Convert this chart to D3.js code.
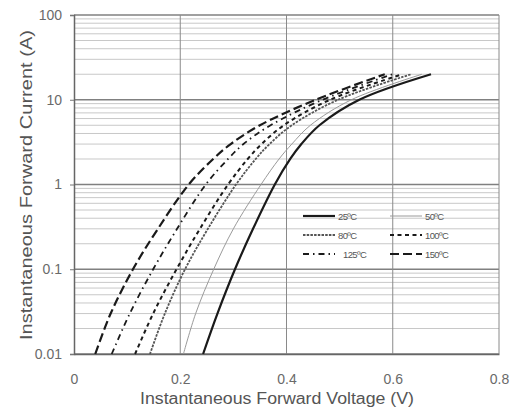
<!DOCTYPE html>
<html>
<head>
<meta charset="utf-8">
<script src="https://cdn.jsdelivr.net/npm/d3@7"></script>
<style>
  body { margin: 0; background: #fff; }
  svg { display: block; font-family: "Liberation Sans", Arial, sans-serif; }
</style>
</head>
<body>
<svg id="chart" width="513" height="412"></svg>
<script>
// forward current levels (A) where each curve was read
const currents = [0.01, 0.03, 0.1, 0.3, 1, 2, 3, 5, 10, 20];
// forward voltage (V) at those currents, one list per temperature
const v25  = [0.243, 0.270, 0.303, 0.337, 0.378, 0.407, 0.428, 0.462, 0.537, 0.672];
const v50  = [0.206, 0.229, 0.263, 0.300, 0.352, 0.386, 0.410, 0.445, 0.522, 0.655];
const v80  = [0.143, 0.171, 0.209, 0.252, 0.305, 0.342, 0.368, 0.41, 0.497, 0.635];
const v100 = [0.115, 0.149, 0.193, 0.237, 0.290, 0.327, 0.353, 0.395, 0.482, 0.618];
const v125 = [0.071, 0.105, 0.149, 0.194, 0.248, 0.290, 0.319, 0.37, 0.468, 0.60];
const v150 = [0.040, 0.069, 0.111, 0.158, 0.216, 0.262, 0.295, 0.35, 0.455, 0.585];

const tempLabels = ["25ºC", "50ºC", "80ºC", "100ºC", "125ºC", "150ºC"];
const xTicks = [0, 0.2, 0.4, 0.6, 0.8];
const yTicks = [0.01, 0.1, 1, 10, 100];

const svg = d3.select("#chart"),
  plotL = 74, plotR = 499, plotT = 15, plotB = 354;

const x = d3.scaleLinear().domain([0, 0.8]).range([plotL, plotR]);
const y = d3.scaleLog().domain([0.01, 100]).range([plotB, plotT]);

// minor horizontal grid (2..9 in each decade)
const minor = [];
[0.01, 0.1, 1, 10].forEach(d => { for (let k = 2; k <= 9; k++) minor.push(d * k); });
svg.append("g").selectAll("line").data(minor).join("line")
  .attr("x1", plotL).attr("x2", plotR)
  .attr("y1", d => y(d)).attr("y2", d => y(d))
  .attr("stroke", "#c8c8c8").attr("stroke-width", 1);

// major grid
svg.append("g").selectAll("line").data(yTicks).join("line")
  .attr("x1", plotL).attr("x2", plotR)
  .attr("y1", d => y(d)).attr("y2", d => y(d))
  .attr("stroke", "#808080").attr("stroke-width", 1.5);
svg.append("g").selectAll("line").data(xTicks.slice(1)).join("line")
  .attr("x1", d => x(d)).attr("x2", d => x(d))
  .attr("y1", plotT).attr("y2", plotB)
  .attr("stroke", "#8a8a8a").attr("stroke-width", 1);

// axes
const yAxis = svg.append("g").attr("transform", `translate(${plotL},0)`)
  .call(d3.axisLeft(y).tickValues(yTicks).tickSize(4).tickPadding(8)
    .tickFormat(d => String(d)));
const xAxis = svg.append("g").attr("transform", `translate(0,${plotB})`)
  .call(d3.axisBottom(x).tickValues(xTicks).tickSize(0).tickPadding(20)
    .tickFormat(d => d === 0 ? "0" : d3.format(".1f")(d)));
[yAxis, xAxis].forEach(a => {
  a.select(".domain").attr("stroke", "#666").attr("stroke-width", 1.5);
  a.selectAll(".tick line").attr("stroke", "#777");
  a.selectAll("text").attr("font-size", 14).attr("fill", "#6a6a6a")
    .attr("font-family", "Liberation Sans, Arial, sans-serif");
});

// curves
const styles = [
  {v: v25,  stroke: "#1a1a1a", width: 2.2, dash: null},
  {v: v50,  stroke: "#9a9a9a", width: 1,   dash: null},
  {v: v80,  stroke: "#555",    width: 1.8, dash: "2.5,1.2"},
  {v: v100, stroke: "#1a1a1a", width: 2,   dash: "4,3.5"},
  {v: v125, stroke: "#1a1a1a", width: 1.8, dash: "6,4,1.5,4"},
  {v: v150, stroke: "#1a1a1a", width: 2.2, dash: "9,4"}
];

const line = d3.line()
  .x(d => x(d[0])).y(d => y(d[1]))
  .curve(d3.curveCatmullRom.alpha(0.5));

svg.append("g").selectAll("path").data(styles).join("path")
  .attr("d", s => line(s.v.map((v, i) => [v, currents[i]])))
  .attr("fill", "none")
  .attr("stroke", s => s.stroke)
  .attr("stroke-width", s => s.width)
  .attr("stroke-dasharray", s => s.dash);

// legend
const leg = svg.append("g");
styles.forEach((s, i) => {
  const col = i % 2, row = Math.floor(i / 2);
  const lx = 303 + col * 87, ly = 216 + row * 19;
  leg.append("line")
    .attr("x1", lx).attr("x2", lx + 32).attr("y1", ly).attr("y2", ly)
    .attr("stroke", s.stroke).attr("stroke-width", s.width)
    .attr("stroke-dasharray", s.dash);
  leg.append("text")
    .attr("x", lx + (i === 4 ? 40 : 35)).attr("y", ly + 3.5)
    .attr("font-size", 9.5).attr("letter-spacing", -0.6).attr("fill", "#555")
    .text(tempLabels[i]);
});

// axis titles
svg.append("text")
  .attr("x", 277).attr("y", 404)
  .attr("text-anchor", "middle")
  .attr("font-size", 16).attr("fill", "#555")
  .attr("textLength", 274).attr("lengthAdjust", "spacingAndGlyphs")
  .text("Instantaneous Forward Voltage (V)");
svg.append("text")
  .attr("transform", "translate(32,185) rotate(-90)")
  .attr("text-anchor", "middle")
  .attr("font-size", 16).attr("fill", "#555")
  .attr("textLength", 310).attr("lengthAdjust", "spacingAndGlyphs")
  .text("Instantaneous Forward Current (A)");
</script>
</body>
</html>
